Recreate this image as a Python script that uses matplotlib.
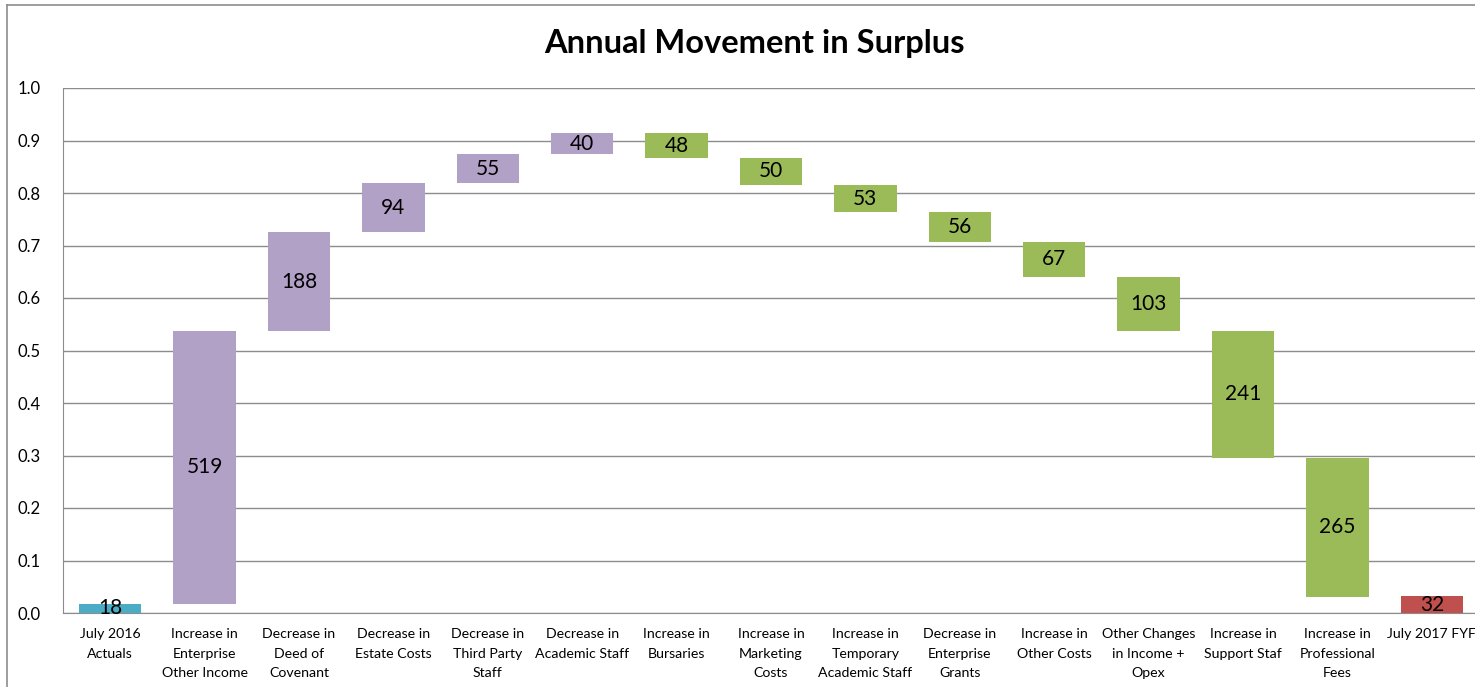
import matplotlib
matplotlib.use("Agg")
import matplotlib.pyplot as plt
from matplotlib.lines import Line2D
from matplotlib.ticker import FormatStrFormatter

plt.rcParams['font.family'] = ['Lato', 'DejaVu Sans']

categories = ["July 2016\nActuals", "Increase in\nEnterprise\nOther Income", "Decrease in\nDeed of\nCovenant",
              "Decrease in\nEstate Costs", "Decrease in\nThird Party\nStaff", "Decrease in\nAcademic Staff",
              "Increase in\nBursaries", "Increase in\nMarketing\nCosts", "Increase in\nTemporary\nAcademic Staff",
              "Decrease in\nEnterprise\nGrants", "Increase in\nOther Costs", "Other Changes\nin Income +\nOpex",
              "Increase in\nSupport Staf", "Increase in\nProfessional\nFees", "July 2017 FYF"]
# values in thousands; kind: total / up / down
values = [18, 519, 188, 94, 55, 40, 48, 50, 53, 56, 67, 103, 241, 265, 32]
kinds = ["total", "up", "up", "up", "up", "up", "down", "down", "down", "down", "down", "down", "down", "down", "total"]
colors_map = {"total_start": "#4BACC6", "up": "#B2A1C7", "down": "#9BBB59", "total_end": "#C0504D"}
yticks = [0.0, 0.1, 0.2, 0.3, 0.4, 0.5, 0.6, 0.7, 0.8, 0.9, 1.0]

W, H = 1475, 687
fig = plt.figure(figsize=(W / 100, H / 100), dpi=100)
band = 94.4
ax = fig.add_axes([63 / W, (H - 613) / H, 15 * band / W, 525 / H])

bottoms, heights, cols = [], [], []
level = 0.0
for i, (v, k) in enumerate(zip(values, kinds)):
    s = v / 1000.0
    if k == "total":
        bottoms.append(0.0)
        heights.append(s)
        cols.append(colors_map["total_start"] if i == 0 else colors_map["total_end"])
        level = s
    elif k == "up":
        bottoms.append(level)
        heights.append(s)
        cols.append(colors_map["up"])
        level += s
    else:
        level -= s
        bottoms.append(level)
        heights.append(s)
        cols.append(colors_map["down"])

x = list(range(len(categories)))
ax.bar(x, heights, bottom=bottoms, width=0.66, color=cols, zorder=3)
for xi, b, h, v in zip(x, bottoms, heights, values):
    ax.text(xi, b + h / 2, str(v), ha="center", va="center", fontsize=15, color="black", zorder=4)

ax.set_xlim(-0.5, 14.5)
ax.set_ylim(0, 1.0)
ax.set_yticks(yticks)
ax.yaxis.set_major_formatter(FormatStrFormatter("%.1f"))
ax.set_xticks(x)
ax.set_xticklabels(categories, fontsize=10.2, linespacing=1.75)
ax.tick_params(axis="both", length=0)
ax.tick_params(axis="y", labelsize=12, pad=16)
ax.tick_params(axis="x", pad=11)
ax.grid(axis="y", color="#8C8C8C", linewidth=1.0, zorder=0)
for sp in ["top", "right"]:
    ax.spines[sp].set_visible(False)
ax.spines["left"].set_color("#8C8C8C")
ax.spines["bottom"].set_color("#8C8C8C")

fig.text(754 / W, 1 - 43 / H, "Annual Movement in Surplus", ha="center", va="center",
         fontsize=23.5, fontweight="bold")

# outer chart border (left and top visible)
fig.add_artist(Line2D([7 / W, 7 / W], [0, 1 - 5 / H], transform=fig.transFigure, color="#8C8C8C", lw=1.2))
fig.add_artist(Line2D([7 / W, 1], [1 - 5 / H, 1 - 5 / H], transform=fig.transFigure, color="#8C8C8C", lw=1.2))

fig.savefig("out.png", dpi=100)
